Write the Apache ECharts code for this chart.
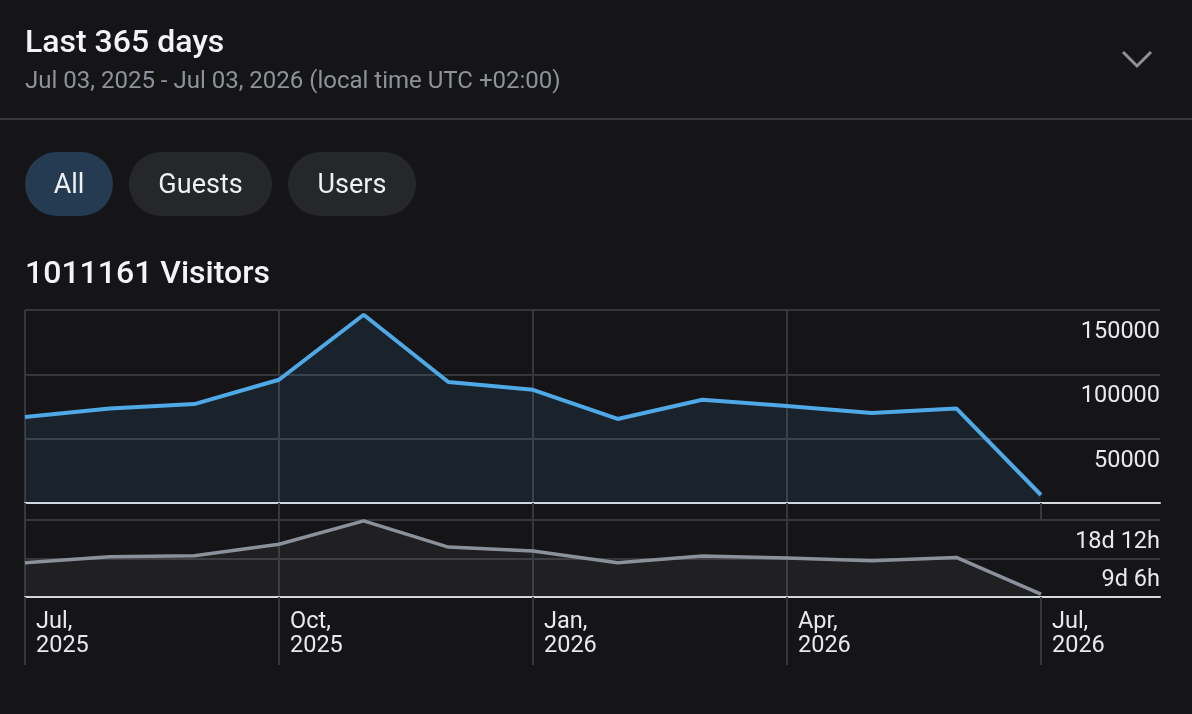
<!DOCTYPE html>
<html>
<head>
<meta charset="utf-8">
<title>Visitors</title>
<script src="https://cdn.jsdelivr.net/npm/echarts@6/dist/echarts.min.js"></script>
<style>
  html, body { margin: 0; padding: 0; background: #151518; }
  #main { width: 1192px; height: 714px; }
</style>
</head>
<body>
<div id="main"></div>
<script>
// monthly data, Jul 2025 .. Jul 2026
var months = ['Jul 2025', 'Aug 2025', 'Sep 2025', 'Oct 2025', 'Nov 2025', 'Dec 2025',
  'Jan 2026', 'Feb 2026', 'Mar 2026', 'Apr 2026', 'May 2026', 'Jun 2026', 'Jul 2026'];
var visitors = [66800, 73500, 76900, 95800, 146300, 94000, 88000, 65300, 80300, 75400, 69900, 73500, 6200];
// time spent, in hours
var timeSpent = [197, 232, 238, 304, 439, 288, 265, 197, 236, 225, 209, 228, 16];
var monthTicks = [0, 3, 6, 9, 12];
var visitorTicks = { max: 150000, step: 50000 };
var timeTicks = { max: 444, step: 222 };

var totalText = '1011161 Visitors';

(function () {
  var myChart = echarts.init(document.getElementById('main'));

  var font = 'Roboto';
  var gridColor = '#36373c';
  var baseColor = '#d6d9dd';
  var labelColor = '#e8e9eb';
  // the axis runs a bit past the last month to leave room for the y labels
  var xMax = months.length - 1 + 1.406;

  function pairs(arr) {
    return arr.map(function (v, i) { return [i, v]; });
  }

  function fmtTime(v) {
    return Math.floor(v / 24) + 'd ' + (v % 24) + 'h';
  }

  function xAxis(idx, tickLen, showLabel) {
    return {
      gridIndex: idx,
      type: 'value',
      min: 0,
      max: xMax,
      interval: 3,
      axisLine: { show: true, lineStyle: { color: baseColor, width: 2 } },
      axisTick: {
        show: true, customValues: monthTicks, length: tickLen,
        lineStyle: { color: gridColor, width: 2 }
      },
      splitLine: { show: true, showMaxLine: false, lineStyle: { color: gridColor, width: 2 } },
      axisLabel: {
        show: showLabel,
        customValues: monthTicks,
        align: 'left',
        padding: [0, 0, 0, 11],
        margin: 13,
        lineHeight: 24,
        fontSize: 23.5,
        fontFamily: font,
        color: labelColor,
        formatter: function (v) {
          var m = months[Math.round(v)];
          return m ? m.replace(' ', ',\n') : '';
        }
      }
    };
  }

  function yAxis(idx, t, fmt) {
    return {
      gridIndex: idx,
      type: 'value',
      position: 'right',
      min: 0,
      max: t.max,
      interval: t.step,
      axisLine: { show: false },
      axisTick: { show: false },
      splitLine: { lineStyle: { color: gridColor, width: 2 } },
      axisLabel: {
        inside: true,
        margin: 0,
        showMinLabel: false,
        verticalAlign: 'top',
        lineHeight: 24,
        padding: [10, 0, 0, 0],
        fontSize: 23.5,
        fontFamily: font,
        color: labelColor,
        formatter: fmt
      }
    };
  }

  function pill(x, w, text, fill) {
    return [
      { type: 'rect', shape: { x: x, y: 152, width: w, height: 64, r: 32 }, style: { fill: fill } },
      {
        type: 'text', x: x + w / 2, y: 186,
        style: { text: text, fill: '#eef0f2', font: '27px Roboto', align: 'center', verticalAlign: 'middle' }
      }
    ];
  }

  var graphic = [
    {
      type: 'text', x: 25, y: 44,
      style: { text: 'Last 365 days', fill: '#f3f4f6', font: '500 32px Roboto', verticalAlign: 'middle' }
    },
    {
      type: 'text', x: 25, y: 82,
      style: {
        text: 'Jul 03, 2025 - Jul 03, 2026 (local time UTC +02:00)',
        fill: '#8e939b', font: '24px Roboto', verticalAlign: 'middle'
      }
    },
    {
      type: 'polyline',
      shape: { points: [[1123, 52], [1137, 66], [1151, 52]] },
      style: { stroke: '#8d929a', lineWidth: 3, fill: null }
    },
    {
      type: 'line', shape: { x1: 0, y1: 119, x2: 1192, y2: 119 },
      style: { stroke: '#37383c', lineWidth: 2 }
    },
    {
      type: 'text', x: 25, y: 275,
      style: { text: totalText, fill: '#f3f4f6', font: '500 32px Roboto', verticalAlign: 'middle' }
    }
  ].concat(pill(25, 88, 'All', '#243b51'))
   .concat(pill(129, 143, 'Guests', '#26272b'))
   .concat(pill(288, 128, 'Users', '#26272b'));

  var option = {
    backgroundColor: '#151518',
    animation: false,
    graphic: graphic,
    grid: [
      { left: 25, right: 32, top: 310, height: 193 },
      { left: 25, right: 32, top: 520, height: 77 }
    ],
    xAxis: [xAxis(0, 17, false), xAxis(1, 68, true)],
    yAxis: [
      yAxis(0, visitorTicks, function (v) { return String(v); }),
      yAxis(1, timeTicks, fmtTime)
    ],
    series: [
      {
        name: 'Visitors',
        type: 'line',
        xAxisIndex: 0,
        yAxisIndex: 0,
        data: pairs(visitors),
        symbol: 'none',
        lineStyle: { color: '#4fa9e6', width: 4 },
        areaStyle: { color: 'rgba(79,170,232,0.14)' }
      },
      {
        name: 'Time',
        type: 'line',
        xAxisIndex: 1,
        yAxisIndex: 1,
        data: pairs(timeSpent),
        symbol: 'none',
        lineStyle: { color: '#8b919a', width: 3.5 },
        areaStyle: { color: 'rgba(139,145,154,0.13)' }
      }
    ]
  };

  myChart.setOption(option);
  window.addEventListener('resize', function () {
    myChart.resize();
  });
})();
</script>
</body>
</html>
